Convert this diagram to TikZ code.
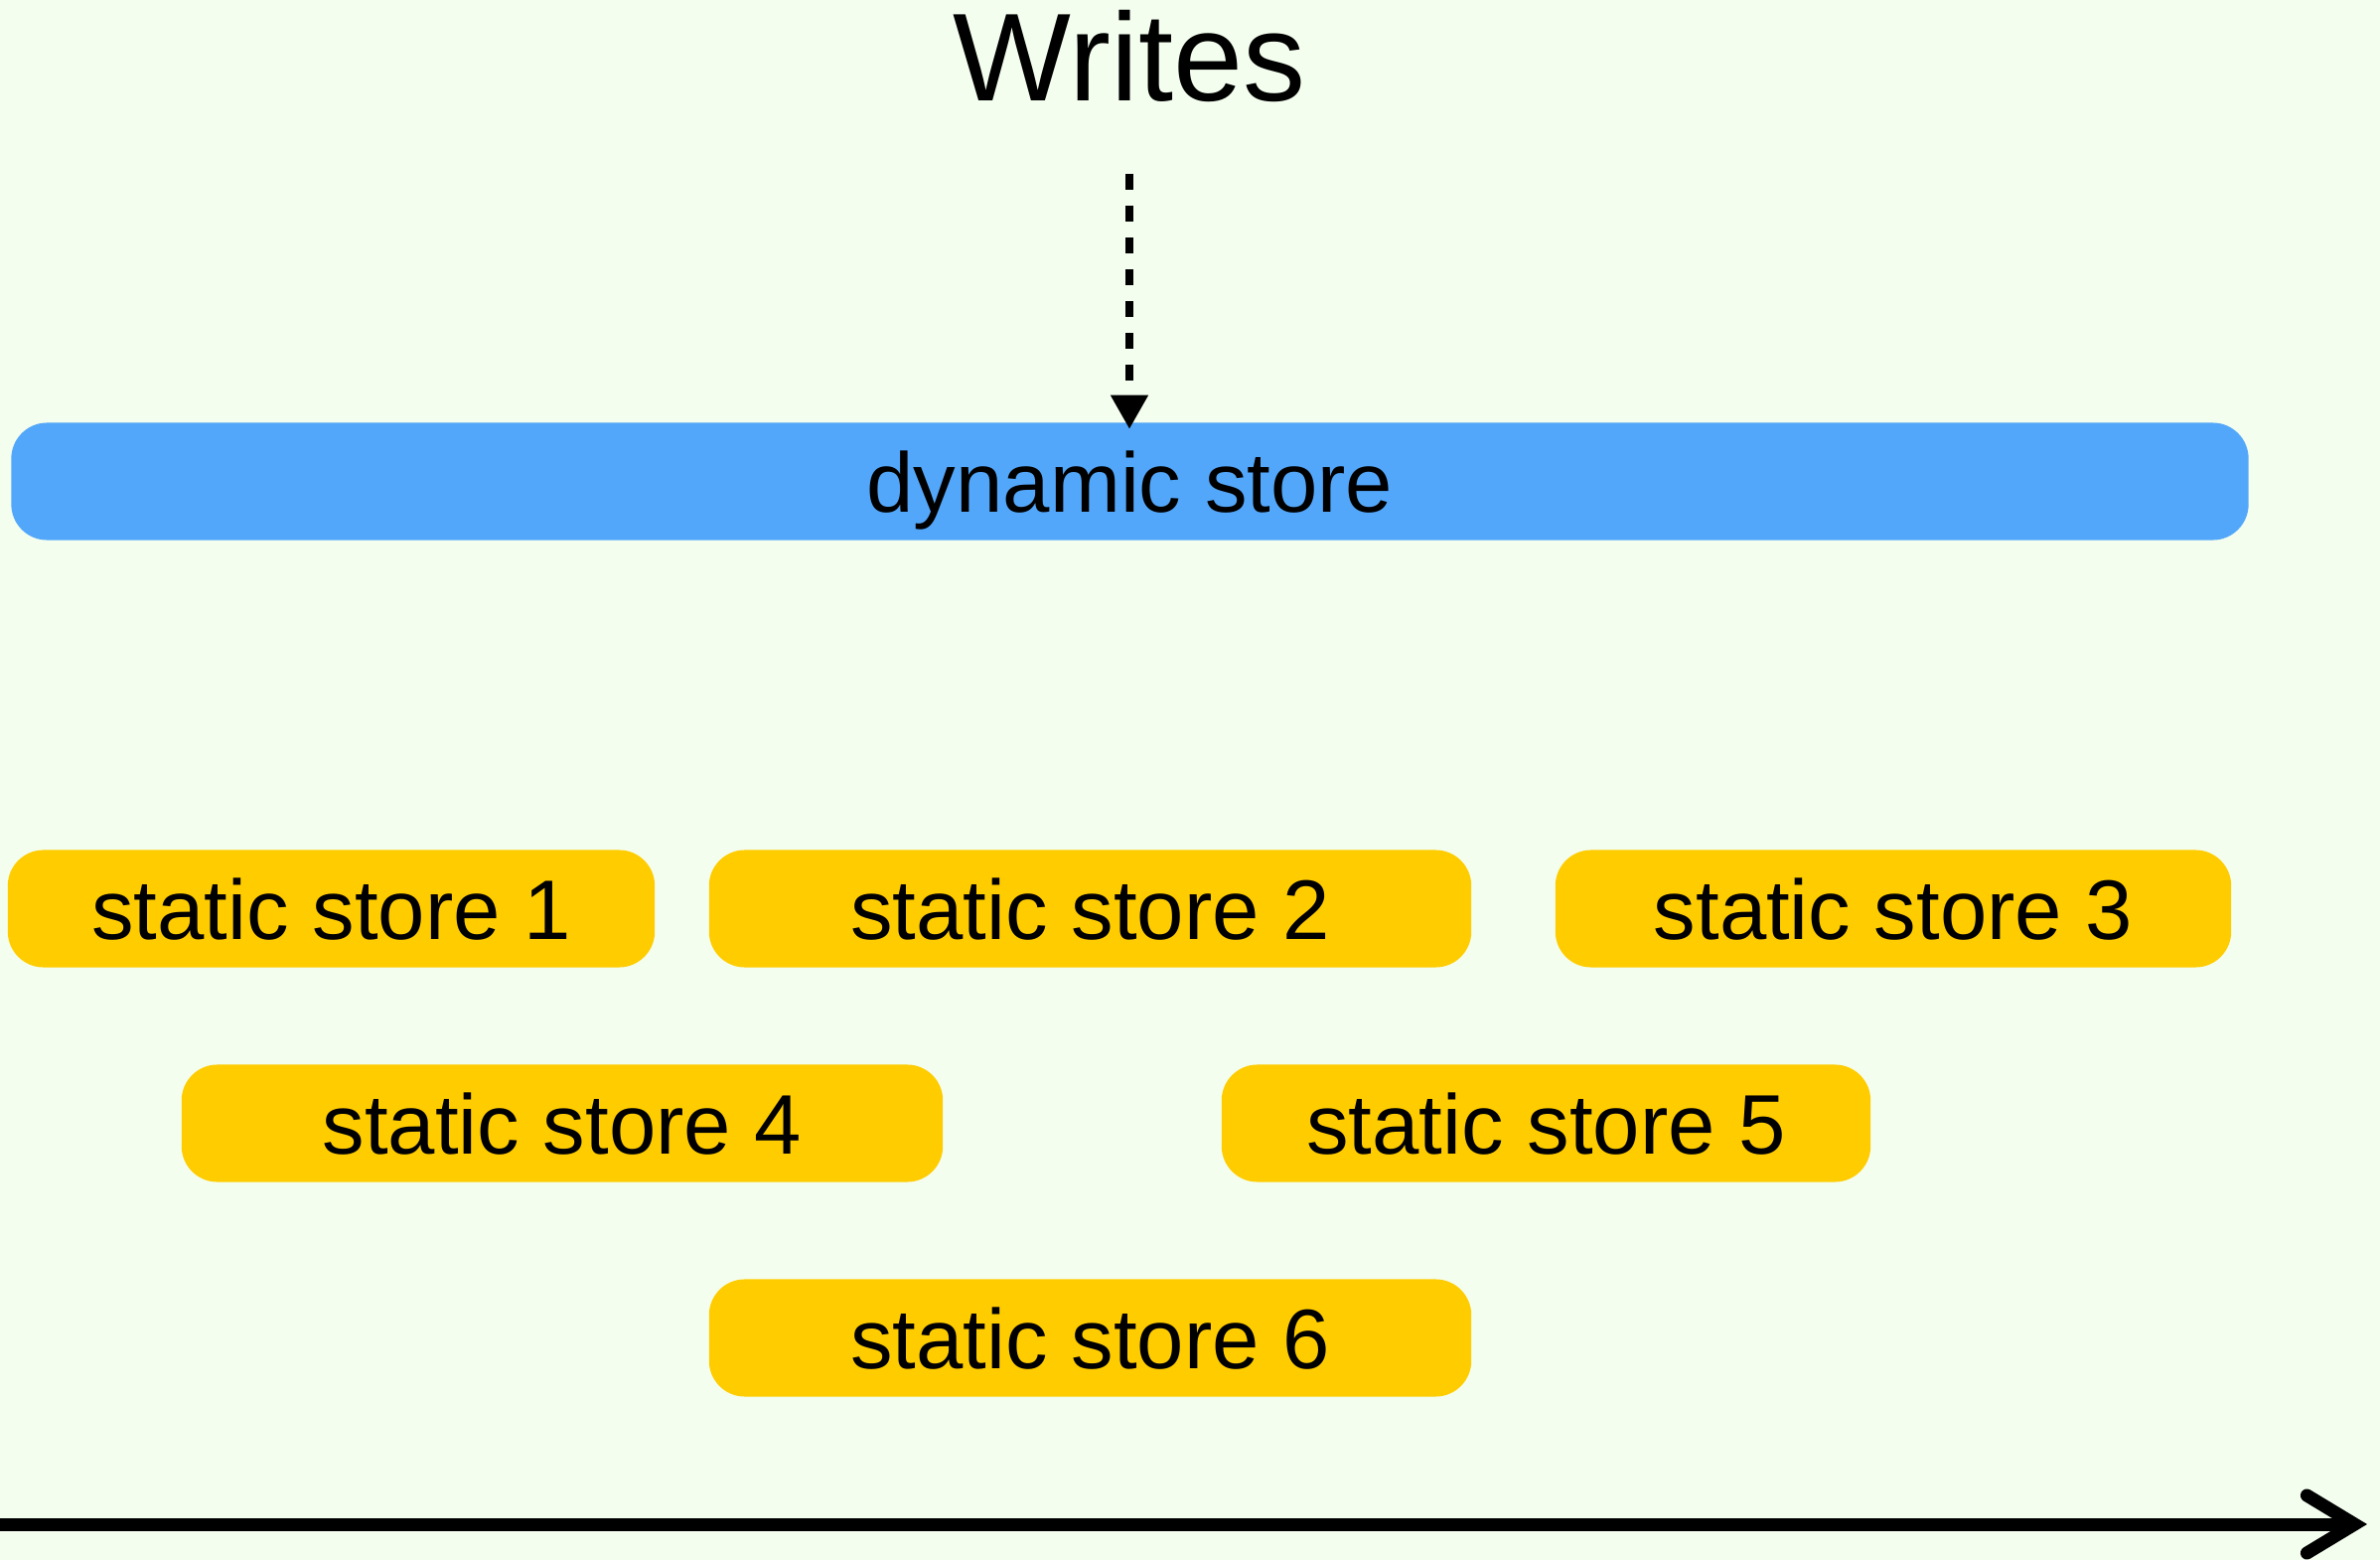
\documentclass[tikz,border=0pt]{standalone}
\usepackage{fontspec}
\setmainfont{Liberation Sans}
\usetikzlibrary{arrows.meta}

\definecolor{fondo}{RGB}{243,254,238}
\definecolor{azul}{RGB}{83,167,250}
\definecolor{amarillo}{RGB}{255,204,0}

\tikzset{
	almacen/.style={rounded corners=0.36cm, inner sep=0pt, minimum height=1.18cm,
		text height=0.62cm, text depth=0pt, font=\fontsize{24.2}{29}\selectfont},
	dinamico/.style={almacen, fill=azul},
	estatico/.style={almacen, fill=amarillo},
}

\begin{document}
\begin{tikzpicture}[x=0.01cm, y=-0.01cm]

\fill[fondo] (0,0) rectangle (2396,1570);
\useasboundingbox (0,0) rectangle (2396,1570);

\node[anchor=base, inner sep=0pt, font=\fontsize{35.8}{42}\selectfont] (writes) at (1137,102) {Writes};

% Almacen dinamico
\node[dinamico, minimum width=22.51cm] (dyn) at (1137.5,484.5) {dynamic store};

\draw[line width=2.1pt, dash pattern=on 0.16cm off 0.16cm, shorten <=0.71cm, shorten >=-0.07cm,
	-{Triangle[length=0.34cm, width=0.36cm]}] (writes.south) -- (writes.south |- dyn.north);

% Almacenes estaticos
\node[estatico, minimum width=6.51cm] (s1) at (333.5,914.5) {static store 1};
\node[estatico, minimum width=7.67cm] (s2) at (1097.5,914.5) {static store 2};
\node[estatico, minimum width=6.80cm] (s3) at (1906,914.5) {static store 3};
\node[estatico, minimum width=7.66cm] (s4) at (566,1130.5) {static store 4};
\node[estatico, minimum width=6.53cm] (s5) at (1556.5,1130.5) {static store 5};
\node[estatico, minimum width=7.67cm] (s6) at (1097.5,1346.5) {static store 6};

% Eje del tiempo
\coordinate (t0) at (0,1534);
\coordinate (t1) at (2383,1534);
\draw[line width=3.7pt, -{Straight Barb[length=0.48cm, width=0.58cm, line cap=round]}] (t0) -- (t1);

\end{tikzpicture}
\end{document}
